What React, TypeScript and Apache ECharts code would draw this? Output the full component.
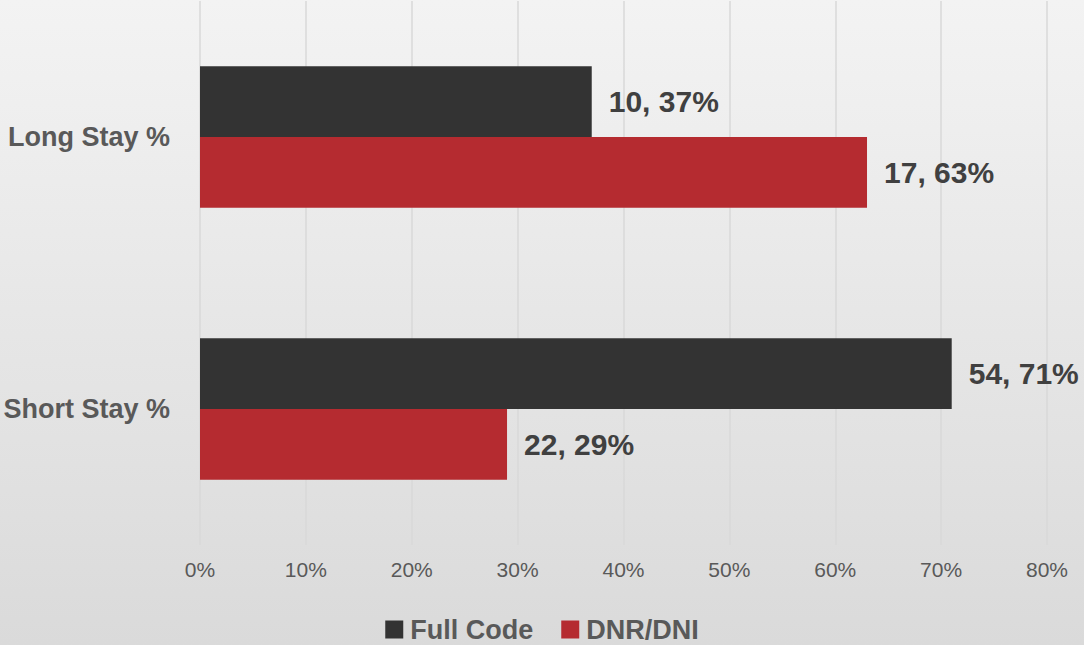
import React, { useEffect, useRef } from "react";
import * as echarts from "echarts";

const categories = ["Long Stay %", "Short Stay %"];
const seriesNames = ["Full Code", "DNR/DNI"];
const fullCodePct = [37, 71];
const dnrPct = [63, 29];
const fullCodeCount = [10, 54];
const dnrCount = [17, 22];
const tickLabels = ["0%", "10%", "20%", "30%", "40%", "50%", "60%", "70%", "80%"];

const FONT = "'Liberation Sans', Arial, sans-serif";

export default function App() {
  const ref = useRef<HTMLDivElement>(null);
  useEffect(() => {
    if (!ref.current) return;
    const chart = echarts.init(ref.current, null, { renderer: "svg" });
    const mkLabel = (counts: number[]) => ({
      show: true,
      position: "right",
      distance: 17,
      fontFamily: FONT,
      fontWeight: "bold",
      fontSize: 30,
      color: "#404040",
      formatter: (p: any) => `${counts[p.dataIndex]}, ${p.value}%`,
    });
    chart.setOption({
      animation: false,
      backgroundColor: new echarts.graphic.LinearGradient(0, 0, 0, 1, [
        { offset: 0, color: "#f3f3f3" },
        { offset: 1, color: "#dadada" },
      ]),
      textStyle: { fontFamily: FONT },
      grid: {
        left: 200,
        right: 37,
        top: 1,
        bottom: 100,
        containLabel: false,
        outerBoundsMode: "none",
      },
      legend: {
        bottom: -3,
        left: "center",
        itemWidth: 18,
        itemHeight: 18,
        itemGap: 28,
        icon: "rect",
        textStyle: { fontFamily: FONT, fontWeight: "bold", fontSize: 27, color: "#595959", padding: [0, 0, 0, 2] },
        data: seriesNames,
      },
      xAxis: {
        type: "value",
        min: 0,
        max: 80,
        interval: 10,
        axisLine: { show: false },
        axisTick: { show: false },
        splitLine: { lineStyle: { color: "#d9d9d9", width: 1.5 } },
        axisLabel: {
          margin: 14,
          fontFamily: FONT,
          fontSize: 21,
          color: "#595959",
          formatter: (v: number) => tickLabels[Math.round(v / 10)],
        },
      },
      yAxis: {
        type: "category",
        inverse: true,
        data: categories,
        axisLine: { show: false },
        axisTick: { show: false },
        axisLabel: {
          margin: 30,
          fontFamily: FONT,
          fontWeight: "bold",
          fontSize: 27,
          color: "#595959",
        },
      },
      series: [
        {
          name: seriesNames[0],
          type: "bar",
          data: fullCodePct,
          itemStyle: { color: "#333333" },
          barGap: "0%",
          barCategoryGap: "48%",
          label: mkLabel(fullCodeCount),
        },
        {
          name: seriesNames[1],
          type: "bar",
          data: dnrPct,
          itemStyle: { color: "#B52B30" },
          barGap: "0%",
          barCategoryGap: "48%",
          label: mkLabel(dnrCount),
        },
      ],
    });
    return () => chart.dispose();
  }, []);
  return (
    <div
      ref={ref}
      style={{ position: "fixed", left: 0, top: 0, width: 1084, height: 645 }}
    />
  );
}
